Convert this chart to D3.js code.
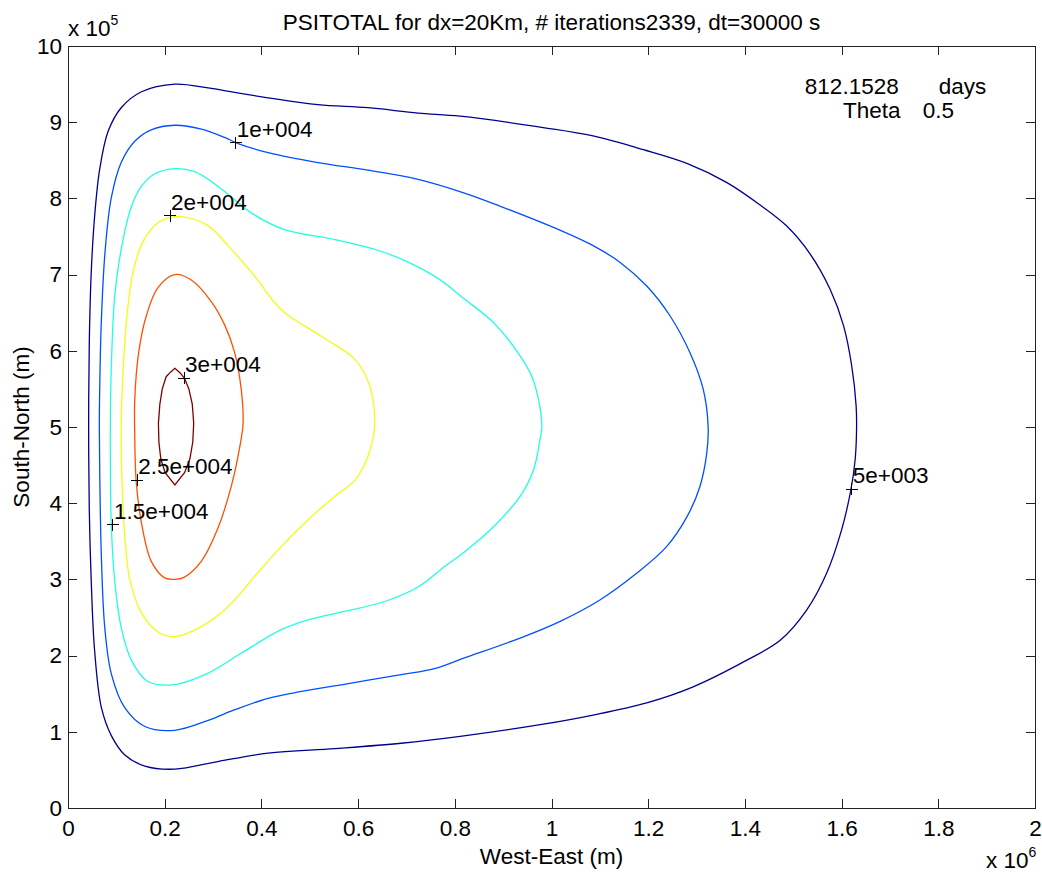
<!DOCTYPE html>
<html>
<head>
<meta charset="utf-8">
<script src="https://cdn.jsdelivr.net/npm/d3@7"></script>
<style>
    body { margin: 0; background: #fff; }
    svg text { font-family: "Liberation Sans", Arial, sans-serif; fill: #000; }
</style>
</head>
<body>
<div id="chart"></div>
<script>
(function(){
    'use strict';

    // contour levels and their jet colours
    var levels = [5000, 10000, 15000, 20000, 25000, 30000],
        levelColors = ["#00008f", "#0050ff", "#20ffdf", "#efff10", "#ff5000", "#800000"];

    // contour paths: [x (1e6 m), y (1e5 m)]
    var c5000 = [[0.221,9.50],[0.29,9.45],[0.345,9.39],[0.414,9.32],[0.517,9.23],[0.62,9.19],[0.724,9.12],[0.811,9.08],
        [0.983,8.93],[1.086,8.82],[1.19,8.64],[1.28,8.46],[1.362,8.21],[1.43,7.92],[1.486,7.64],[1.535,7.27],[1.576,6.81],
        [1.604,6.33],[1.621,5.80],[1.63,5.28],[1.631,5.0],[1.628,4.57],[1.619,4.17],[1.6,3.65],[1.569,3.08],[1.528,2.60],
        [1.473,2.20],[1.404,1.94],[1.293,1.59],[1.197,1.38],[1.086,1.22],[0.983,1.10],[0.811,0.94],[0.689,0.85],[0.552,0.78],
        [0.414,0.72],[0.31,0.61],[0.221,0.51],[0.159,0.55],[0.117,0.70],[0.0896,0.95],[0.069,1.32],[0.055,2.07],[0.048,2.99],
        [0.044,3.92],[0.0427,5.0],[0.044,6.09],[0.048,7.02],[0.055,7.76],[0.0655,8.38],[0.083,8.88],[0.110,9.19],[0.152,9.40]];
    var c10000 = [[0.221,8.96],[0.276,8.91],[0.324,8.80],[0.352,8.72],[0.414,8.60],[0.517,8.47],[0.62,8.37],[0.724,8.25],
        [0.82,8.07],[0.893,7.90],[1.004,7.62],[1.086,7.38],[1.142,7.16],[1.197,6.85],[1.245,6.46],[1.286,5.98],[1.314,5.49],
        [1.324,5.0],[1.321,4.65],[1.307,4.22],[1.28,3.82],[1.238,3.43],[1.176,3.08],[1.1,2.73],[1.018,2.45],[0.935,2.23],
        [0.82,1.97],[0.758,1.83],[0.689,1.75],[0.586,1.64],[0.483,1.53],[0.414,1.44],[0.345,1.29],[0.29,1.15],[0.221,1.02],
        [0.159,1.07],[0.117,1.32],[0.0896,1.76],[0.076,2.37],[0.069,3.30],[0.066,4.23],[0.0648,5.0],[0.0655,5.47],[0.069,6.40],
        [0.077,7.33],[0.0896,8.01],[0.110,8.47],[0.138,8.75],[0.172,8.90]];
    var c15000 = [[0.221,8.39],[0.262,8.35],[0.31,8.16],[0.379,7.81],[0.448,7.59],[0.552,7.46],[0.655,7.29],[0.758,6.98],
        [0.82,6.68],[0.88,6.37],[0.928,6.0],[0.959,5.67],[0.975,5.3],[0.98,5.0],[0.976,4.83],[0.963,4.44],[0.935,4.09],
        [0.88,3.69],[0.82,3.36],[0.779,3.17],[0.724,2.90],[0.655,2.71],[0.572,2.58],[0.496,2.47],[0.441,2.34],[0.358,2.03],
        [0.29,1.77],[0.221,1.62],[0.165,1.66],[0.131,1.94],[0.110,2.37],[0.0965,2.99],[0.0896,3.71],[0.0876,5.0],[0.0896,5.78],
        [0.0965,6.71],[0.110,7.33],[0.131,7.89],[0.152,8.16],[0.179,8.32]];
    var c20000 = [[0.235,7.76],[0.29,7.64],[0.331,7.38],[0.386,6.98],[0.441,6.54],[0.524,6.19],[0.593,5.89],[0.624,5.54],
        [0.634,5.0],[0.62,4.61],[0.593,4.30],[0.552,4.09],[0.496,3.78],[0.441,3.43],[0.386,3.04],[0.331,2.64],[0.276,2.38],
        [0.221,2.25],[0.186,2.31],[0.152,2.56],[0.128,2.99],[0.117,3.61],[0.112,4.23],[0.110,5.0],[0.112,5.47],[0.121,6.40],
        [0.134,7.02],[0.152,7.39],[0.179,7.64],[0.205,7.74]];
    var c25000 = [[0.221,7.0],[0.255,6.93],[0.296,6.65],[0.324,6.34],[0.345,5.97],[0.3585,5.48],[0.362,5.04],[0.355,4.73],
        [0.338,4.23],[0.31,3.67],[0.276,3.24],[0.241,3.03],[0.221,3.0],[0.2,3.02],[0.172,3.24],[0.152,3.74],[0.141,4.29],
        [0.138,4.91],[0.138,5.35],[0.146,5.97],[0.162,6.46],[0.186,6.83]];
    var c30000 = [[0.221,5.77],[0.232,5.71],[0.241,5.64],[0.25,5.5],[0.257,5.3],[0.26,5.05],[0.258,4.8],[0.252,4.58],
        [0.241,4.40],[0.221,4.24],[0.201,4.40],[0.192,4.58],[0.188,4.8],[0.187,5.05],[0.19,5.3],[0.195,5.5],[0.203,5.66],[0.212,5.72]];
    var contours = [c5000, c10000, c15000, c20000, c25000, c30000];

    // clabel positions
    var labelTexts = ["5e+003", "1e+004", "1.5e+004", "2e+004", "2.5e+004", "3e+004"],
        labelPoints = [[1.621,4.18], [0.347,8.73], [0.093,3.72], [0.211,7.77], [0.143,4.30], [0.24,5.64]];

    var xTicks = [0, 0.2, 0.4, 0.6, 0.8, 1, 1.2, 1.4, 1.6, 1.8, 2],
        yTicks = [0, 1, 2, 3, 4, 5, 6, 7, 8, 9, 10];

    var width = 1042, height = 875,
        margin = { top: 46, right: 7, bottom: 67, left: 68 },
        tick = 9,
        fontSize = "22.5px";

    var svg = d3.select("#chart").append("svg")
        .attr("width", width)
        .attr("height", height);

    var x = d3.scaleLinear().domain([0, 2]).range([margin.left, width - margin.right]),
        y = d3.scaleLinear().domain([0, 10]).range([height - margin.bottom, margin.top]);

    // contour lines
    var line = d3.line()
        .x(function(d) { return x(d[0]); })
        .y(function(d) { return y(d[1]); });

    svg.append("g").selectAll("path")
        .data(contours)
        .enter().append("path")
        .attr("d", function(d, i) {
            return line.curve(i === 5 ? d3.curveLinearClosed : d3.curveCatmullRomClosed.alpha(0.5))(d);
        })
        .attr("fill", "none")
        .attr("stroke", function(d, i) { return levelColors[i]; })
        .attr("stroke-width", 1.3);

    // axes, ticks pointing in
    var fmt = function(d) { return d3.format("")(+d.toFixed(1)); };
    var axisStyle = function(g) {
        g.selectAll("path, line").attr("stroke", "#222").attr("shape-rendering", "crispEdges");
        g.selectAll("text").style("font-size", fontSize).attr("fill", "#000");
    };

    svg.append("g")
        .attr("transform", "translate(0," + y(0) + ")")
        .call(d3.axisBottom(x).tickValues(xTicks).tickFormat(fmt).tickSize(-tick).tickSizeOuter(0).tickPadding(12))
        .call(axisStyle);
    svg.append("g")
        .attr("transform", "translate(0," + y(10) + ")")
        .call(d3.axisTop(x).tickValues(xTicks).tickFormat("").tickSize(-tick).tickSizeOuter(0))
        .call(axisStyle);
    svg.append("g")
        .attr("transform", "translate(" + x(0) + ",0)")
        .call(d3.axisLeft(y).tickValues(yTicks).tickFormat(fmt).tickSize(-tick).tickSizeOuter(0).tickPadding(6))
        .call(axisStyle);
    svg.append("g")
        .attr("transform", "translate(" + x(2) + ",0)")
        .call(d3.axisRight(y).tickValues(yTicks).tickFormat("").tickSize(-tick).tickSizeOuter(0))
        .call(axisStyle);
    svg.selectAll(".domain").attr("fill", "none");

    // contour labels with + markers
    var labels = svg.append("g").selectAll("g")
        .data(labelTexts)
        .enter().append("g")
        .attr("transform", function(d, i) {
            return "translate(" + x(labelPoints[i][0]) + "," + y(labelPoints[i][1]) + ")";
        });
    labels.append("path")
        .attr("d", "M-6,0H6M0,-6V6")
        .attr("stroke", "#000")
        .attr("stroke-width", 1)
        .attr("shape-rendering", "crispEdges");
    labels.append("text")
        .attr("x", 1)
        .attr("y", -6)
        .style("font-size", fontSize)
        .text(function(d) { return d; });

    // title and labels
    svg.append("text")
        .attr("x", (x(0) + x(2)) / 2)
        .attr("y", 29.5)
        .style("text-anchor", "middle")
        .style("font-size", fontSize)
        .text("PSITOTAL for dx=20Km, # iterations2339, dt=30000 s");

    svg.append("text")
        .attr("x", (x(0) + x(2)) / 2)
        .attr("y", 864)
        .style("text-anchor", "middle")
        .style("font-size", fontSize)
        .text("West-East (m)");

    svg.append("text")
        .attr("transform", "translate(29," + (y(0) + y(10)) / 2 + ") rotate(-90)")
        .style("text-anchor", "middle")
        .style("font-size", fontSize)
        .text("South-North (m)");

    // exponent multipliers
    var e5 = svg.append("text").attr("x", 68).attr("y", 35.7).style("font-size", fontSize);
    e5.append("tspan").text("x 10");
    e5.append("tspan").attr("dy", -11).style("font-size", "14px").text("5");

    var e6 = svg.append("text").attr("x", 986).attr("y", 868).style("font-size", fontSize);
    e6.append("tspan").text("x 10");
    e6.append("tspan").attr("dy", -11).style("font-size", "14px").text("6");

    // annotations
    var notes = [["812.1528", 1.524, 9.37], ["days", 1.801, 9.37], ["Theta", 1.603, 9.06], ["0.5", 1.768, 9.06]];
    svg.append("g").selectAll("text")
        .data(notes)
        .enter().append("text")
        .attr("x", function(d) { return x(d[1]); })
        .attr("y", function(d) { return y(d[2]); })
        .style("font-size", fontSize)
        .text(function(d) { return d[0]; });
})();
</script>
</body>
</html>
